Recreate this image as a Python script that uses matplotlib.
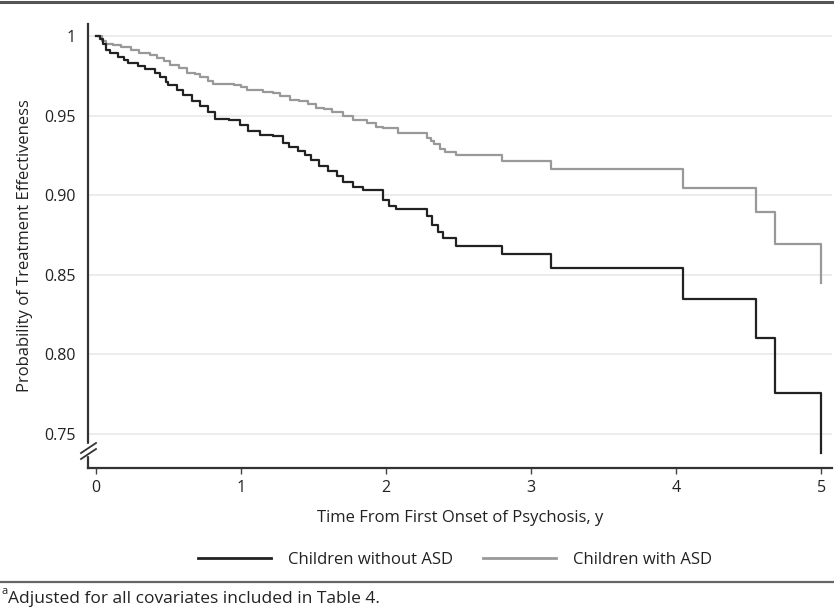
import matplotlib
matplotlib.use("Agg")
import matplotlib.pyplot as plt
from matplotlib.lines import Line2D

plt.rcParams['font.family'] = ['Open Sans', 'DejaVu Sans']

# Kaplan-Meier style step data (time in years, probability)
t_without = [0, 0.03, 0.05, 0.07, 0.10, 0.15, 0.19, 0.22, 0.29, 0.34, 0.41, 0.44, 0.48, 0.50, 0.56,
             0.60, 0.66, 0.72, 0.77, 0.82, 0.92, 0.99, 1.05, 1.13, 1.22, 1.29, 1.33, 1.39, 1.44, 1.48,
             1.54, 1.60, 1.66, 1.70, 1.77, 1.84, 1.98, 2.02, 2.07, 2.28, 2.32, 2.36, 2.39, 2.48, 2.80,
             3.14, 4.05, 4.55, 4.68, 5.0]
p_without = [1.0, 0.998, 0.995, 0.991, 0.989, 0.987, 0.985, 0.983, 0.981, 0.979, 0.977, 0.974, 0.971, 0.969, 0.966,
             0.963, 0.959, 0.956, 0.952, 0.948, 0.947, 0.944, 0.940, 0.938, 0.937, 0.933, 0.930, 0.928, 0.925, 0.922,
             0.918, 0.915, 0.912, 0.908, 0.905, 0.903, 0.897, 0.893, 0.891, 0.887, 0.881, 0.877, 0.873, 0.868, 0.863,
             0.854, 0.835, 0.810, 0.776, 0.738]

t_with = [0, 0.04, 0.07, 0.12, 0.17, 0.24, 0.30, 0.37, 0.42, 0.47, 0.51, 0.57, 0.63, 0.68, 0.72, 0.77,
          0.81, 0.95, 1.00, 1.04, 1.15, 1.22, 1.27, 1.34, 1.40, 1.46, 1.52, 1.57, 1.63, 1.70, 1.77, 1.87,
          1.93, 1.98, 2.08, 2.28, 2.31, 2.33, 2.37, 2.41, 2.48, 2.80, 3.14, 4.05, 4.55, 4.68, 5.0]
p_with = [1.0, 0.997, 0.995, 0.994, 0.993, 0.991, 0.989, 0.988, 0.986, 0.984, 0.982, 0.980, 0.977, 0.976, 0.974, 0.972,
          0.970, 0.969, 0.968, 0.966, 0.965, 0.964, 0.962, 0.960, 0.959, 0.957, 0.955, 0.954, 0.952, 0.950, 0.947, 0.945,
          0.943, 0.942, 0.939, 0.936, 0.934, 0.932, 0.929, 0.927, 0.9255, 0.9215, 0.9165, 0.9045, 0.8895, 0.869, 0.845]

x_ticks = [0, 1, 2, 3, 4, 5]
y_ticks = [0.75, 0.80, 0.85, 0.90, 0.95, 1.0]
y_ticklabels = ["0.75", "0.80", "0.85", "0.90", "0.95", "1"]
labels = ["Children without ASD", "Children with ASD"]
colors = ["#222222", "#999999"]

W, H = 834, 613
fig = plt.figure(figsize=(W / 100, H / 100), dpi=100)
ax = fig.add_axes([88 / W, 1 - 468 / H, (832 - 88) / W, (468 - 24) / H])

for y in y_ticks:
    ax.axhline(y, color="#e9e9e9", lw=1.2, zorder=1)

ax.step(t_with, p_with, where="post", color=colors[1], lw=1.6, zorder=3)
ax.step(t_without, p_without, where="post", color=colors[0], lw=1.6, zorder=4)

ax.set_xlim(-0.055, 5.075)
ax.set_ylim(0.7286, 1.0075)
ax.set_xticks(x_ticks)
ax.set_xticklabels([str(v) for v in x_ticks])
ax.set_yticks(y_ticks)
ax.set_yticklabels(y_ticklabels)
ax.tick_params(axis="x", length=4, width=1, color="#444444", labelsize=11.5, pad=5, labelcolor="#222222")
ax.tick_params(axis="y", length=0, labelsize=11.5, pad=9, labelcolor="#222222")

for s in ["top", "right"]:
    ax.spines[s].set_visible(False)
for s in ["left", "bottom"]:
    ax.spines[s].set_color("#333333")
    ax.spines[s].set_linewidth(1.6)

ax.set_xlabel("Time From First Onset of Psychosis, y", fontsize=12, color="#222222", labelpad=10)
ax.set_ylabel("Probability of Treatment Effectiveness", fontsize=12, color="#222222", labelpad=8)

# axis break mark on y axis
def fx(px):
    return px / W
def fy(py):
    return 1 - py / H
fig.patches.append(plt.Rectangle((fx(82), fy(455)), fx(14) - fx(0), (fy(444) - fy(455)),
                                 transform=fig.transFigure, color="white", zorder=10))
for dy in (0, 6):
    fig.add_artist(Line2D([fx(81), fx(96)], [fy(453 + dy), fy(443 + dy)], color="#333333", lw=1.3, zorder=11))

# Legend
handles = [Line2D([], [], color=colors[0], lw=2), Line2D([], [], color=colors[1], lw=2)]
fig.legend(handles, labels, loc="center", bbox_to_anchor=(455 / W, 1 - 560 / H), ncol=2, frameon=False,
           fontsize=12, handlelength=4.4, columnspacing=1.8, handletextpad=1.0, labelcolor="#222222")

# Horizontal rules
fig.add_artist(Line2D([0, 1], [fy(2), fy(2)], color="#555555", lw=2.2))
fig.add_artist(Line2D([0, 1], [fy(582), fy(582)], color="#666666", lw=1.6))

# Footnote
fig.text(fx(1), fy(592), "a", fontsize=8, va="center", ha="left", color="#222222")
fig.text(fx(8), fy(599), "Adjusted for all covariates included in Table 4.", fontsize=12.5,
         va="center", ha="left", color="#222222")

fig.savefig("out.png", dpi=100)
